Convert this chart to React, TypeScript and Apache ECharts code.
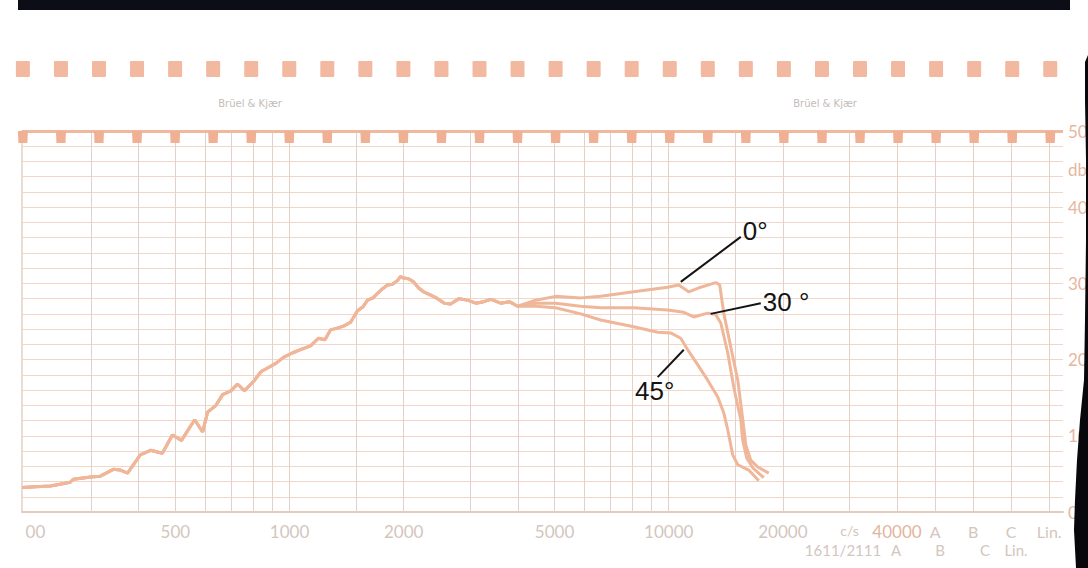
import React, { useEffect, useRef } from 'react';
import * as echarts from 'echarts';

// ---- axes ----
const freqMin = 197;
const freqMax = 40000;
const dbMin = 0;
const dbMax = 50;
const dbStep = 2;

const gridFreqLines = [300, 400, 500, 600, 700, 800, 900, 1000, 1500, 2000, 3000, 4000, 5000, 6000, 7000, 8000, 9000, 10000, 15000, 20000, 30000];
const freqTickValues = [200, 500, 1000, 2000, 5000, 10000, 20000, 30000, 40000];
const freqTickLabels = ['00', '500', '1000', '2000', '5000', '10000', '20000', 'c/s', '40000'];
const weightingColumns = [1, 2, 3, 4];
const weightingLabels = ['A', 'B', 'C', 'Lin.'];
const dbTickValues = [0, 10, 20, 30, 40, 45, 50];
const dbTickLabels = ['0', '10', '20', '30', '40', 'db', '50'];

// ---- response curves (Hz, dB) ----
const commonFreq = [197, 214, 234, 252, 264, 269, 299, 317, 343, 358, 374, 404, 430, 462, 491, 519, 562, 590, 608, 640, 666, 700, 729, 761, 809, 840, 875, 920, 964, 1020, 1069, 1136, 1192, 1240, 1283, 1330, 1388, 1449, 1511, 1560, 1606, 1660, 1707, 1760, 1814, 1870, 1928, 1960, 2000, 2060, 2124, 2190, 2257, 2350, 2458, 2560, 2660, 2800, 2949, 3100, 3250, 3400, 3603, 3800, 3996];
const commonDb = [3.2, 3.3, 3.4, 3.7, 3.9, 4.3, 4.6, 4.7, 5.6, 5.5, 5.1, 7.5, 8.1, 7.7, 10.1, 9.4, 12.1, 10.5, 13.1, 14.0, 15.4, 15.9, 16.8, 15.9, 17.3, 18.4, 18.9, 19.5, 20.3, 20.9, 21.3, 21.8, 22.8, 22.6, 23.9, 24.1, 24.4, 24.9, 26.4, 26.9, 27.8, 28.1, 28.7, 29.3, 29.8, 29.9, 30.4, 30.9, 30.7, 30.6, 30.2, 29.4, 28.9, 28.5, 28.0, 27.4, 27.3, 28.0, 27.8, 27.4, 27.6, 27.9, 27.4, 27.6, 27.0];

const freq0 = [4459, 5032, 5859, 6615, 8085, 9940, 10630, 11290, 12150, 13300, 13630, 13970, 14570, 15210, 15680, 15970, 16460, 17170, 18360];
const db0 = [27.8, 28.3, 28.1, 28.3, 28.9, 29.5, 29.8, 28.9, 29.5, 30.1, 29.8, 26.1, 21.7, 17.3, 12.1, 8.8, 6.8, 5.9, 5.1];

const freq30 = [4459, 5032, 5859, 6615, 8085, 9940, 10960, 11640, 12670, 13300, 13720, 14310, 14840, 15490, 15680, 16060, 16660, 17810];
const db30 = [27.4, 27.4, 27.0, 26.8, 26.8, 26.5, 26.2, 25.6, 26.1, 25.9, 24.8, 20.9, 16.4, 12.1, 9.4, 7.1, 5.8, 4.5];

const freq45 = [4459, 5032, 5859, 6615, 8085, 9354, 10120, 10760, 11220, 11930, 12670, 13470, 13970, 14310, 14750, 15210, 16260, 17280];
const db45 = [27.0, 26.8, 26.0, 25.2, 24.3, 23.6, 23.5, 22.8, 21.3, 19.3, 17.3, 15.1, 13.0, 10.8, 7.5, 6.2, 5.5, 4.1];

// annotation leader lines: [startFreq, startDb, endFreq, endDb]
const annotationLabels = ['0°', '30 °', '45°'];
const annotationLines = [
  [10760, 30.2, 15490, 36.1],
  [12900, 26.0, 17490, 27.4],
  [10960, 21.3, 9354, 17.7],
];

// ---- layout ----
const W = 1088;
const H = 568;
const gridLeft = 22;
const gridTop = 131;
const gridHeight = 381;
const plotRight = 897;
const paperRight = 1063;
const pitch = 38.05;
const firstHole = 22.9;
const holeCount = 28;

const CURVE = '#f0b699';
const HLINE = '#f2d7c9';
const VLINE = '#e0d2c8';
const TAB = '#f0b094';
const LABEL = '#d3c6be';

function zip(a: number[], b: number[]) {
  return a.map((v, i) => [v, b[i]]);
}

export default function App() {
  const ref = useRef<HTMLDivElement>(null);

  useEffect(() => {
    document.body.style.margin = '0';
    document.body.style.background = '#ffffff';
    const chart = echarts.init(ref.current!, null, { renderer: 'svg' });

    const baseGraphics: any[] = [];
    // dark scan edge at top
    baseGraphics.push({ type: 'rect', z: 50, shape: { x: 18, y: 0, width: 1052, height: 10 }, style: { fill: '#0d0d18' } });
    // sprocket holes and top tabs
    for (let k = 0; k < holeCount; k++) {
      const cx = firstHole + pitch * k;
      baseGraphics.push({ type: 'rect', z: 10, shape: { x: cx - 7, y: 61, width: 14, height: 16, r: 1 }, style: { fill: '#f2b9a0' } });
      baseGraphics.push({
        type: 'polygon', z: 10,
        shape: { points: [[cx - 5, gridTop], [cx + 5, gridTop], [cx + 4.5, gridTop + 12], [cx - 4.5, gridTop + 12]] },
        style: { fill: TAB },
      });
    }
    // maker's imprint
    [250, 825].forEach((x) => {
      baseGraphics.push({ type: 'text', z: 10, x, y: 103, style: { text: 'Brüel & Kjær', fill: '#c4bcb8', fontSize: 10, fontFamily: 'DejaVu Sans', align: 'center', verticalAlign: 'middle' } });
    });
    // second scale row
    const row2 = [['1611/2111', 843], ['A', 896], ['B', 940], ['C', 985], ['Lin.', 1016]];
    row2.forEach(([t, x]) => {
      baseGraphics.push({ type: 'text', z: 10, x, y: 550, style: { text: t, fill: LABEL, fontSize: 15, fontFamily: 'Lato', align: 'center', verticalAlign: 'middle' } });
    });
    // black scan edge at right
    baseGraphics.push({
      type: 'polygon', z: 60,
      shape: { points: [[1088, 55], [1085, 62], [1085, 100], [1086, 160], [1086, 240], [1085, 320], [1084, 380], [1080, 420], [1077, 460], [1075, 500], [1074, 530], [1076, 568], [1088, 568]] },
      style: { fill: '#08080c' },
    });

    const tickFormatter = (v: number) => {
      const i = freqTickValues.findIndex((t) => Math.abs(t - v) < t * 1e-6);
      if (i < 0) return '';
      const s = freqTickLabels[i];
      if (i === 0) return '{l|' + s + '}';
      if (s === 'c/s') return '{s|' + s + '}';
      if (i === freqTickValues.length - 1) return '{o|' + s + '}';
      return s;
    };

    const curveSeries = (name: string, f: number[], d: number[]) => ({
      name,
      type: 'line',
      xAxisIndex: 0,
      yAxisIndex: 0,
      data: zip(commonFreq.concat(f), commonDb.concat(d)),
      showSymbol: false,
      symbol: 'none',
      z: 3,
      lineStyle: { color: CURVE, width: 3 },
      emphasis: { disabled: true },
    });

    chart.setOption({
      animation: false,
      backgroundColor: '#ffffff',
      grid: [
        { left: gridLeft, top: gridTop, width: plotRight - gridLeft, height: gridHeight, outerBoundsMode: 'none' },
        { left: plotRight, top: gridTop, width: paperRight - plotRight, height: gridHeight, outerBoundsMode: 'none' },
      ],
      xAxis: [
        {
          type: 'log', logBase: 10, gridIndex: 0, min: freqMin, max: freqMax,
          axisLine: { show: true, lineStyle: { color: '#e3cbbd', width: 2 } },
          axisTick: { show: false },
          splitLine: { show: false },
          axisLabel: {
            customValues: freqTickValues,
            formatter: tickFormatter,
            color: LABEL, fontSize: 17, fontFamily: 'Lato', margin: 11,
            rich: {
              l: { color: LABEL, fontSize: 17, fontFamily: 'Lato', padding: [0, 0, 0, 22] },
              s: { color: LABEL, fontSize: 14, fontFamily: 'Lato' },
              o: { color: '#e2b59d', fontSize: 17, fontFamily: 'Lato' },
            },
          },
        },
        {
          type: 'value', gridIndex: 1, min: 0, max: (paperRight - plotRight) / pitch, interval: 1,
          axisLine: { show: true, lineStyle: { color: '#e3cbbd', width: 2 } },
          axisTick: { show: false },
          splitLine: { show: true, showMaxLine: false, lineStyle: { color: VLINE, width: 1 } },
          axisLabel: {
            customValues: weightingColumns,
            formatter: (v: number) => weightingLabels[weightingColumns.indexOf(v)] ?? '',
            color: LABEL, fontSize: 16, fontFamily: 'Lato', margin: 11,
          },
        },
      ],
      yAxis: [
        {
          type: 'value', gridIndex: 0, min: dbMin, max: dbMax, interval: dbStep,
          axisLine: { show: true, lineStyle: { color: '#e5d0c2', width: 1.5 } },
          axisTick: { show: false },
          axisLabel: { show: false },
          splitLine: { show: true, lineStyle: { color: HLINE, width: 1 } },
        },
        {
          type: 'value', gridIndex: 1, position: 'right', min: dbMin, max: dbMax, interval: dbStep,
          axisLine: { show: false },
          axisTick: { show: false },
          axisLabel: {
            customValues: dbTickValues,
            formatter: (v: number) => dbTickLabels[dbTickValues.indexOf(v)] ?? '',
            color: '#e6b7a0', fontSize: 17, fontFamily: 'Lato', margin: 5,
          },
          splitLine: { show: true, lineStyle: { color: HLINE, width: 1 } },
        },
      ],
      series: [
        {
          type: 'line', xAxisIndex: 0, yAxisIndex: 0, data: [], silent: true,
          markLine: {
            silent: true, z: 1, symbol: ['none', 'none'], label: { show: false },
            emphasis: { disabled: true },
            lineStyle: { color: VLINE, width: 1, type: 'solid' },
            data: [
              ...gridFreqLines.map((v) => ({ xAxis: v })),
              { yAxis: dbMax, lineStyle: { color: '#f0b99d', width: 3, type: 'solid' } },
            ],
          },
        },
        {
          type: 'line', xAxisIndex: 1, yAxisIndex: 1, data: [], silent: true,
          markLine: {
            silent: true, z: 1, symbol: ['none', 'none'], label: { show: false },
            emphasis: { disabled: true },
            data: [{ yAxis: dbMax, lineStyle: { color: '#f0b99d', width: 3, type: 'solid' } }],
          },
        },
        curveSeries('0°', freq0, db0),
        curveSeries('30°', freq30, db30),
        curveSeries('45°', freq45, db45),
      ],
      graphic: baseGraphics,
    });

    // annotations anchored to the data coordinates
    const ann: any[] = [];
    annotationLines.forEach((a, i) => {
      const p1 = chart.convertToPixel({ xAxisIndex: 0, yAxisIndex: 0 }, [a[0], a[1]]) as number[];
      const p2 = chart.convertToPixel({ xAxisIndex: 0, yAxisIndex: 0 }, [a[2], a[3]]) as number[];
      ann.push({ type: 'line', z: 40, shape: { x1: p1[0], y1: p1[1], x2: p2[0], y2: p2[1] }, style: { stroke: '#141414', lineWidth: 2 } });
      let tx = p2[0] + 2;
      let ty = p2[1] - 6;
      let align = 'left';
      if (i === 1) { tx = p2[0] + 2; ty = p2[1] - 1; }
      if (i === 2) { tx = p2[0] - 3; ty = p2[1] + 14; align = 'center'; }
      ann.push({
        type: 'text', z: 40, x: tx, y: ty,
        style: { text: annotationLabels[i], fill: '#141414', fontSize: 26, fontFamily: 'Liberation Sans', align, verticalAlign: 'middle' },
      });
    });
    chart.setOption({ graphic: baseGraphics.concat(ann) });

    return () => chart.dispose();
  }, []);

  return <div ref={ref} style={{ width: W, height: H }} />;
}
